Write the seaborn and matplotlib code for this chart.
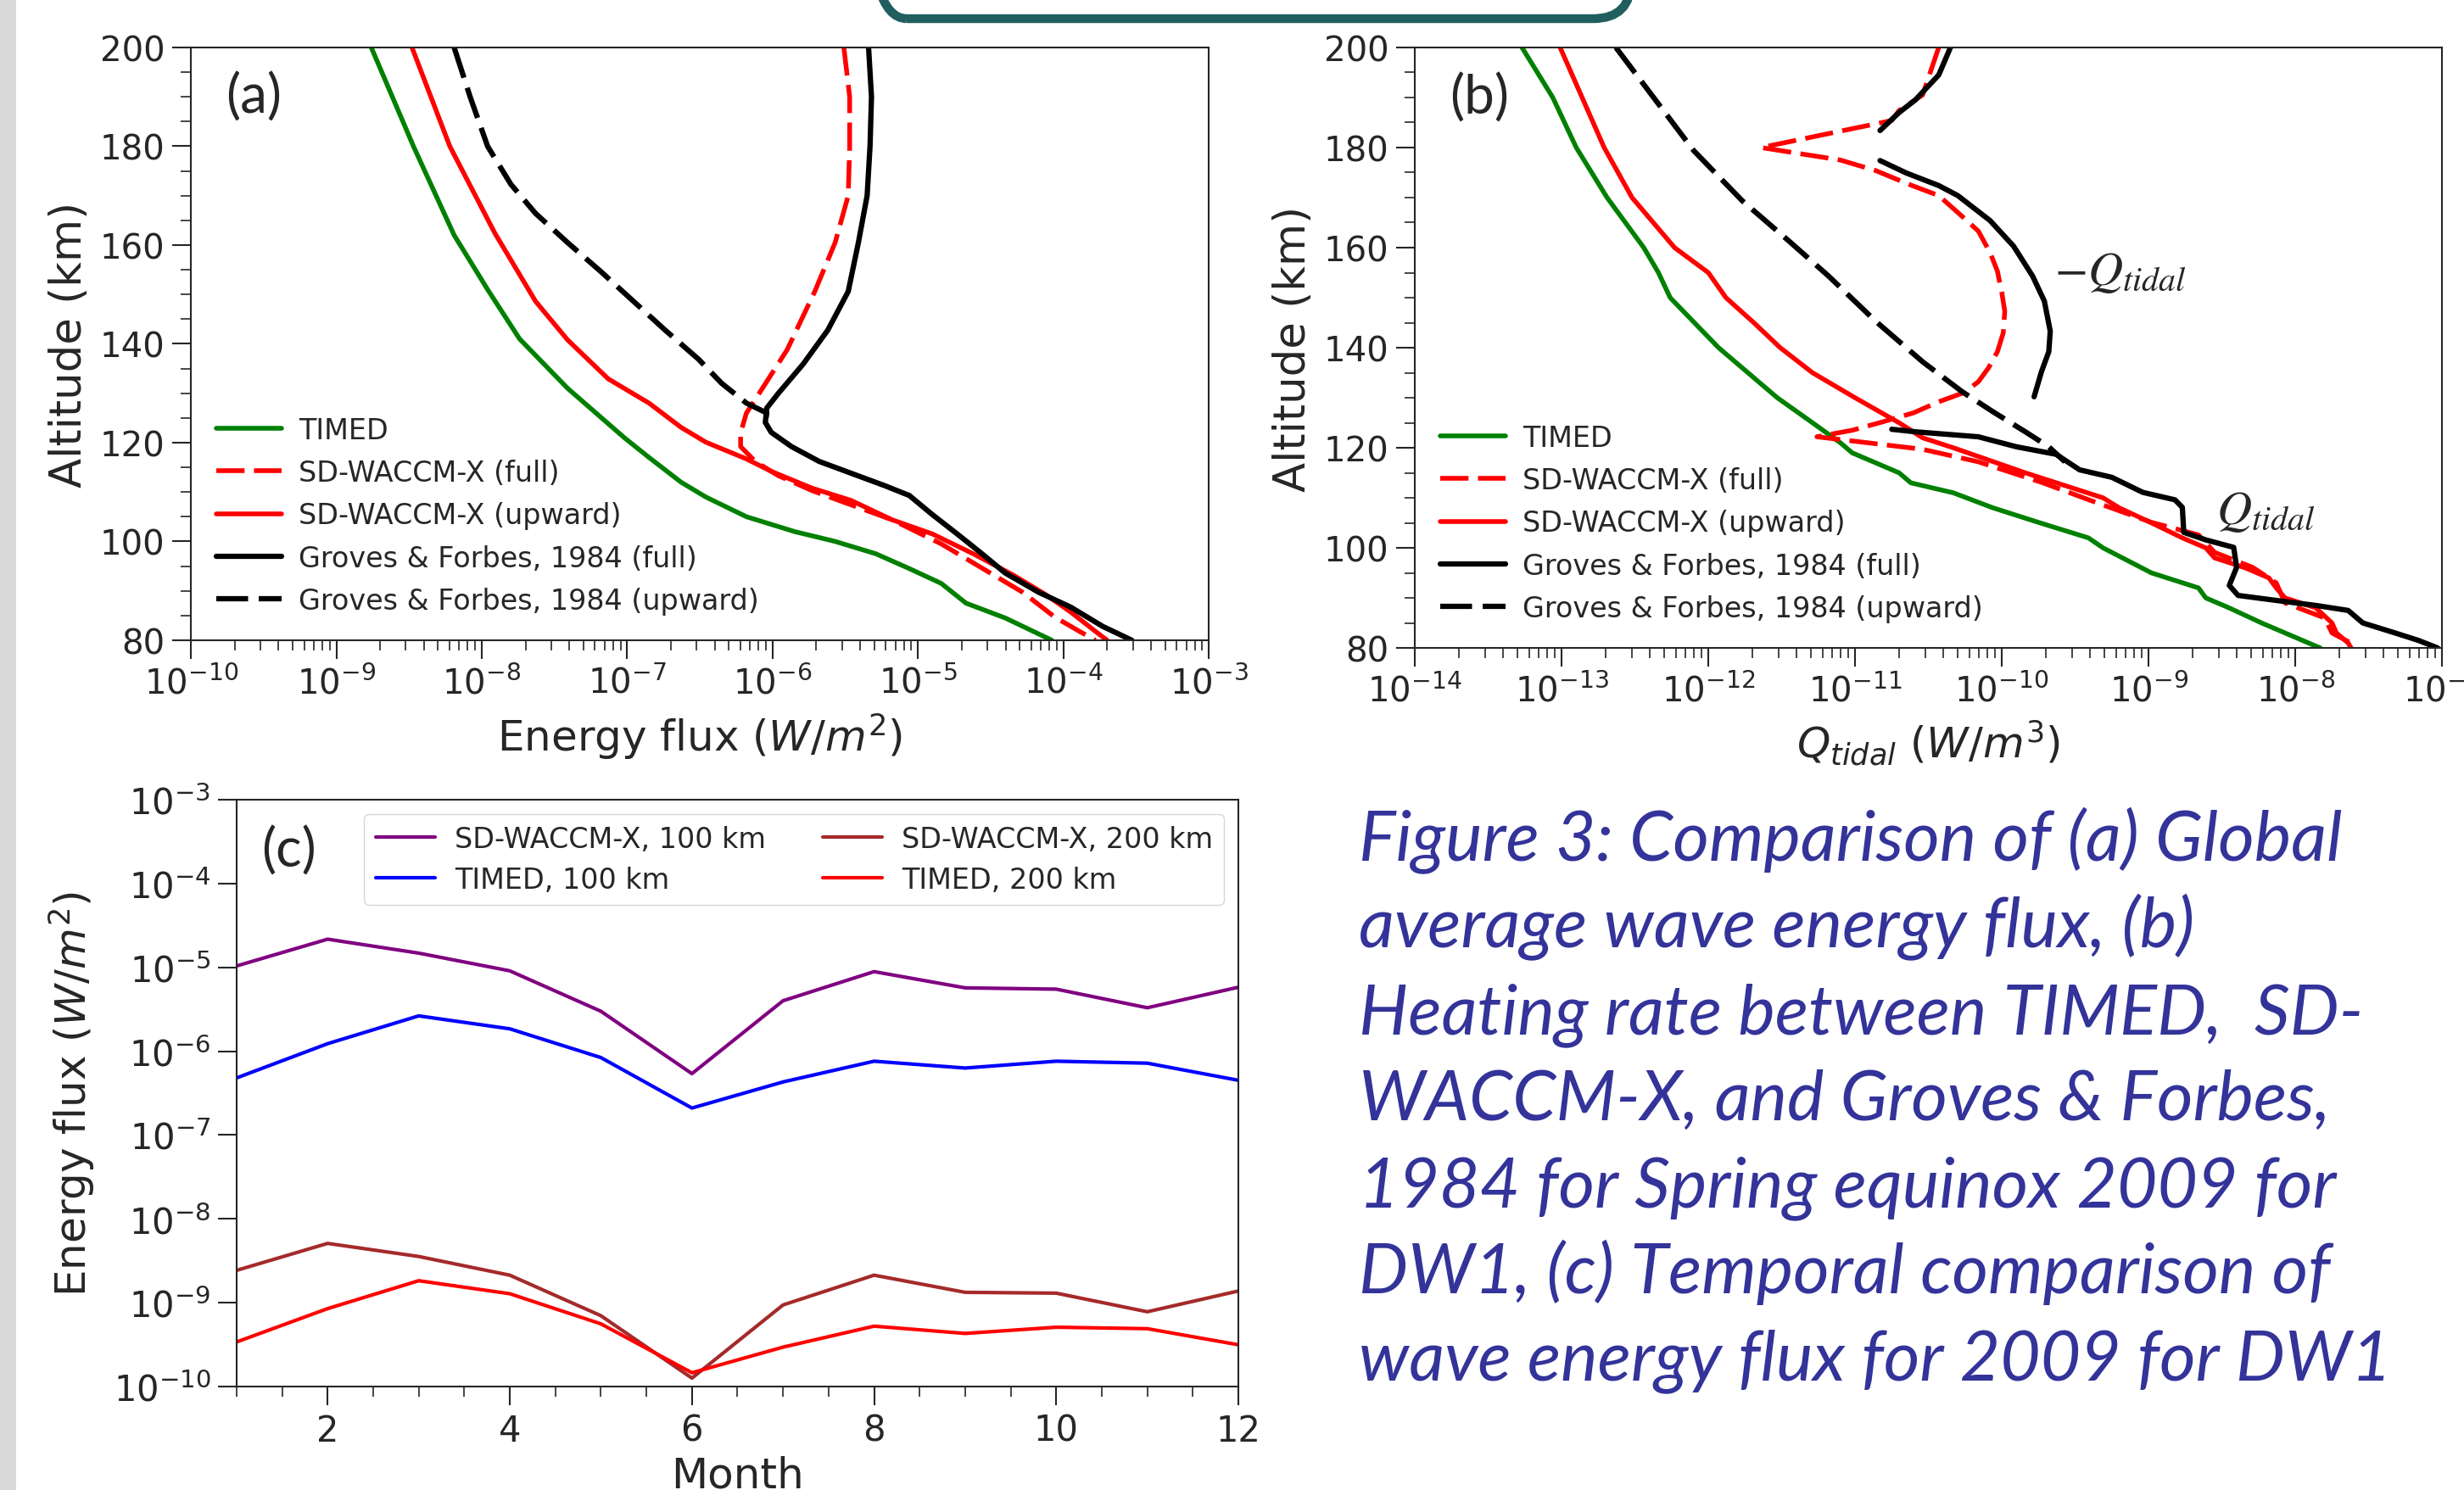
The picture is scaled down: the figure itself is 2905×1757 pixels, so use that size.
import numpy as np
import pandas as pd
import seaborn as sns
import matplotlib.pyplot as plt
from matplotlib.ticker import LogLocator, NullFormatter, NullLocator, MultipleLocator
from matplotlib.patches import FancyBboxPatch, Rectangle

# ---------- (a) energy flux profiles, log10(W/m^2) vs altitude (km) ----------
a_timed_alt = [200, 180, 162, 151, 141, 131, 121, 117, 112, 109, 105, 102, 100, 97.5, 94.5, 91.5, 87.5, 84.5, 80]
a_timed_log = [-8.76, -8.47, -8.19, -7.96, -7.74, -7.41, -7.02, -6.85, -6.63, -6.46, -6.18, -5.85, -5.57, -5.29,
               -5.06, -4.84, -4.67, -4.40, -4.08]

a_sdfull_alt = [200, 190, 180, 170, 160.5, 150.6, 138.8, 131, 126, 122, 119.2, 116.2, 113.3, 110.3, 107.4, 104.4,
                99.5, 94.6, 89.7, 84.7, 81.8, 80]
a_sdfull_log = [-5.51, -5.47, -5.47, -5.48, -5.57, -5.71, -5.90, -6.07, -6.18, -6.22, -6.22, -6.12, -5.96, -5.73,
                -5.46, -5.18, -4.84, -4.56, -4.28, -4.06, -3.89, -3.78]

a_sdup_alt = [200, 180, 162.4, 148.6, 140.8, 132.9, 128, 123.1, 120.1, 116.7, 114.2, 110.8, 108.3, 104.4, 101.5,
              97.5, 93.1, 89.2, 85.7, 81.8, 80]
a_sdup_log = [-8.48, -8.22, -7.91, -7.63, -7.41, -7.13, -6.85, -6.63, -6.46, -6.18, -6.01, -5.73, -5.46, -5.18,
              -4.90, -4.62, -4.34, -4.12, -3.95, -3.78, -3.70]

a_gffull_alt = [200, 190, 180, 170, 160.5, 150.6, 142.8, 135.9, 130, 127, 124.1, 122.1, 119.2, 116.2, 113.8, 111.3,
                109.3, 105.4, 101.5, 97.5, 93.6, 89.7, 86.7, 82.8, 80]
a_gffull_log = [-5.34, -5.32, -5.33, -5.35, -5.41, -5.48, -5.62, -5.79, -5.96, -6.04, -6.05, -6.01, -5.87, -5.68,
                -5.46, -5.23, -5.06, -4.90, -4.73, -4.56, -4.40, -4.17, -3.95, -3.73, -3.53]

a_gfup_alt = [200, 190, 180, 172.3, 166.4, 160.5, 154.6, 148.7, 142.8, 136.9, 132, 128, 126, 124.1]
a_gfup_log = [-8.19, -8.08, -7.96, -7.80, -7.63, -7.41, -7.18, -6.96, -6.74, -6.51, -6.35, -6.18, -6.04, -6.05]

# ---------- (b) tidal heating profiles, log10(W/m^3) vs altitude (km) ----------
b_timed_alt = [200, 190, 180, 170, 160, 155, 150, 140, 130, 125, 121, 119, 117, 115, 113, 111, 108, 105, 102, 100,
               95, 92, 90, 88, 85, 80]
b_timed_log = [-13.27, -13.06, -12.90, -12.69, -12.44, -12.34, -12.26, -11.93, -11.53, -11.29, -11.10, -11.02,
               -10.86, -10.70, -10.62, -10.33, -10.06, -9.74, -9.41, -9.31, -8.98, -8.66, -8.61, -8.45, -8.23, -7.83]

b_sdfull_alt = [200, 190.5, 187.4, 185.4, 180, 177.5, 175.4, 172.5, 170.4, 166.5, 163.3, 159, 155.3, 151, 147.3,
                143, 139.2, 136, 133.2, 131, 129.2, 127, 125.2, 123.5, 122.2, 121.2, 119.7, 117.2, 113.1, 109.1,
                105.1, 102.6, 99.1, 96.1, 93, 89, 86, 83, 80.5]
b_sdfull_log = [-10.43, -10.54, -10.70, -10.75, -11.64, -11.10, -10.86, -10.62, -10.43, -10.28, -10.16, -10.08,
                -10.03, -10.00, -9.98, -9.99, -10.03, -10.09, -10.16, -10.26, -10.43, -10.60, -10.81, -11.02,
                -11.26, -10.97, -10.54, -10.16, -9.73, -9.36, -8.98, -8.66, -8.55, -8.29, -8.13, -8.07, -7.80,
                -7.75, -7.59]

b_sdup_alt = [200, 180, 170, 160, 155, 150, 145, 140, 135, 130, 125, 122, 120, 115, 110, 108, 105, 102, 100, 98,
              96, 94, 92, 90, 88, 85, 83, 81, 80]
b_sdup_log = [-13.01, -12.71, -12.52, -12.23, -12.00, -11.88, -11.69, -11.51, -11.29, -11.00, -10.70, -10.54,
              -10.33, -9.84, -9.31, -9.20, -8.98, -8.77, -8.61, -8.55, -8.34, -8.18, -8.13, -8.07, -7.86, -7.75,
              -7.72, -7.64, -7.62]

# Groves & Forbes (full) is drawn in three pieces (sign changes leave gaps)
b_gffull_top_alt = [200, 194.5, 189.5, 187, 183.4]
b_gffull_top_log = [-10.35, -10.43, -10.59, -10.70, -10.83]
b_gffull_mid_alt = [177.4, 174.9, 172.4, 170.4, 165.4, 160.3, 154.3, 149.3, 143.3, 139.2, 135.2, 130.2]
b_gffull_mid_log = [-10.83, -10.65, -10.43, -10.30, -10.08, -9.92, -9.79, -9.71, -9.67, -9.68, -9.73, -9.78]
b_gffull_low_alt = [123.7, 123.2, 122.2, 120.2, 118.7, 115.6, 114.1, 111.1, 109.6, 108.1, 103.1, 101.6, 100.1,
                    96.1, 92.5, 90.5, 89.5, 88.5, 87.5, 85, 83, 81.5, 80]
b_gffull_low_log = [-10.75, -10.59, -10.16, -9.90, -9.63, -9.47, -9.25, -9.04, -8.82, -8.77, -8.76, -8.61, -8.42,
                    -8.40, -8.45, -8.39, -8.13, -7.86, -7.64, -7.54, -7.32, -7.16, -7.03]

b_gfup_alt = [200, 189.5, 179.4, 169.4, 161.3, 154.3, 145.3, 137.2, 131.2, 127.2, 123.2, 120.2, 117.2]
b_gfup_log = [-12.63, -12.36, -12.10, -11.77, -11.45, -11.18, -10.86, -10.54, -10.27, -10.06, -9.84, -9.68, -9.57]

# ---------- (c) monthly energy flux (W/m^2) ----------
months = [1, 2, 3, 4, 5, 6, 7, 8, 9, 10, 11, 12]
sd_100 = [1.04e-5, 2.17e-5, 1.48e-5, 9.1e-6, 3.0e-6, 5.4e-7, 4.0e-6, 8.9e-6, 5.7e-6, 5.5e-6, 3.3e-6, 5.8e-6]
timed_100 = [4.8e-7, 1.23e-6, 2.64e-6, 1.85e-6, 8.4e-7, 2.1e-7, 4.3e-7, 7.6e-7, 6.3e-7, 7.6e-7, 7.2e-7, 4.5e-7]
sd_200 = [2.43e-9, 5.1e-9, 3.56e-9, 2.13e-9, 7.0e-10, 1.26e-10, 9.4e-10, 2.13e-9, 1.33e-9, 1.30e-9, 7.8e-10, 1.38e-9]
timed_200 = [3.4e-10, 8.5e-10, 1.83e-9, 1.28e-9, 5.6e-10, 1.46e-10, 2.95e-10, 5.25e-10, 4.3e-10, 5.1e-10, 4.9e-10,
             3.15e-10]

caption_lines = [
    "Figure 3: Comparison of (a) Global",
    "average wave energy flux, (b)",
    "Heating rate between TIMED,  SD-",
    "WACCM-X, and Groves & Forbes,",
    "1984 for Spring equinox 2009 for",
    "DW1, (c) Temporal comparison of",
    "wave energy flux for 2009 for DW1",
]

sns.set_theme(style="ticks")
plt.rcParams["font.family"] = ["DejaVu Sans"]
plt.rcParams["axes.linewidth"] = 1.5

DASH = (0, (6, 2))
LW = 4
LWB = 4.5


def profile(ax, alt, logval, **kw):
    df = pd.DataFrame({"alt": alt, "val": np.power(10.0, logval)})
    sns.lineplot(data=df, x="val", y="alt", sort=False, estimator=None, orient="y", ax=ax, **kw)


def style_profile_axes(ax, xmin, xmax, xlabel, panel):
    ax.set_xscale("log")
    ax.set_xlim(xmin, xmax)
    ax.set_ylim(80, 200)
    ax.xaxis.set_major_locator(LogLocator(base=10, numticks=100))
    ax.xaxis.set_minor_locator(LogLocator(base=10, subs=np.arange(2, 10), numticks=100))
    ax.xaxis.set_minor_formatter(NullFormatter())
    ax.yaxis.set_major_locator(MultipleLocator(20))
    ax.yaxis.set_minor_locator(MultipleLocator(5))
    ax.tick_params(which="major", length=16, width=1.5, labelsize=29, pad=6)
    ax.tick_params(which="minor", length=8.5, width=1.2)
    ax.set_xlabel(xlabel, fontsize=36, labelpad=8)
    ax.set_ylabel("Altitude (km)", fontsize=37, labelpad=8)
    ax.text(0.034, 0.917, panel, transform=ax.transAxes, fontsize=46, family="Lato", va="center", ha="left")
    ax.legend(loc="lower left", frameon=False, fontsize=24, handlelength=2.3, handletextpad=0.6, labelspacing=0.52)


fig = plt.figure(figsize=(29.05, 17.58), dpi=100)
fig.patch.set_facecolor("white")

# decorations from the poster
fig.add_artist(Rectangle((0, 0), 0.19, 17.58, transform=fig.dpi_scale_trans, facecolor="#d9d9d9",
                         edgecolor="none"))
fig.add_artist(FancyBboxPatch((10.24, 17.35), 8.99, 2.0, boxstyle="round,pad=0,rounding_size=0.45",
                              transform=fig.dpi_scale_trans, facecolor="none", edgecolor="#215f5f", linewidth=7.5))

# ---- panel (a)
ax_a = fig.add_axes([0.0775, 0.5700, 0.4131, 0.3976])
ax_a.set_xscale("log")
profile(ax_a, a_timed_alt, a_timed_log, color="green", linewidth=LW, label="TIMED")
profile(ax_a, a_sdfull_alt, a_sdfull_log, color="red", linewidth=LW, linestyle=DASH, label="SD-WACCM-X (full)")
profile(ax_a, a_sdup_alt, a_sdup_log, color="red", linewidth=LW, label="SD-WACCM-X (upward)")
profile(ax_a, a_gffull_alt, a_gffull_log, color="black", linewidth=LWB, label="Groves & Forbes, 1984 (full)")
profile(ax_a, a_gfup_alt, a_gfup_log, color="black", linewidth=LWB, linestyle=DASH,
        label="Groves & Forbes, 1984 (upward)")
style_profile_axes(ax_a, 1e-10, 1e-3, r"Energy flux ($W/m^2$)", "(a)")

# ---- panel (b)
ax_b = fig.add_axes([0.5742, 0.5648, 0.4169, 0.4028])
ax_b.set_xscale("log")
profile(ax_b, b_timed_alt, b_timed_log, color="green", linewidth=LW, label="TIMED")
profile(ax_b, b_sdfull_alt, b_sdfull_log, color="red", linewidth=LW, linestyle=DASH, label="SD-WACCM-X (full)")
profile(ax_b, b_sdup_alt, b_sdup_log, color="red", linewidth=LW, label="SD-WACCM-X (upward)")
profile(ax_b, b_gffull_top_alt, b_gffull_top_log, color="black", linewidth=LWB,
        label="Groves & Forbes, 1984 (full)")
profile(ax_b, b_gffull_mid_alt, b_gffull_mid_log, color="black", linewidth=LWB)
profile(ax_b, b_gffull_low_alt, b_gffull_low_log, color="black", linewidth=LWB)
profile(ax_b, b_gfup_alt, b_gfup_log, color="black", linewidth=LWB, linestyle=DASH,
        label="Groves & Forbes, 1984 (upward)")
style_profile_axes(ax_b, 1e-14, 1e-7, r"$Q_{tidal}$ ($W/m^3$)", "(b)")
ax_b.text(10 ** -9.64, 155.3, r"$-Q_{tidal}$", fontsize=41, math_fontfamily="stix", va="center", ha="left")
ax_b.text(10 ** -8.54, 107.5, r"$Q_{tidal}$", fontsize=41, math_fontfamily="stix", va="center", ha="left")

# ---- panel (c)
ax_c = fig.add_axes([0.0960, 0.0694, 0.4066, 0.3936])
ax_c.set_yscale("log")
df_c = pd.DataFrame({"Month": months, "sd100": sd_100, "t100": timed_100, "sd200": sd_200, "t200": timed_200})
sns.lineplot(data=df_c, x="Month", y="sd100", color="purple", linewidth=3, label="SD-WACCM-X, 100 km", ax=ax_c)
sns.lineplot(data=df_c, x="Month", y="t100", color="blue", linewidth=3, label="TIMED, 100 km", ax=ax_c)
sns.lineplot(data=df_c, x="Month", y="sd200", color="brown", linewidth=3, label="SD-WACCM-X, 200 km", ax=ax_c)
sns.lineplot(data=df_c, x="Month", y="t200", color="red", linewidth=3, label="TIMED, 200 km", ax=ax_c)
ax_c.set_xlim(1, 12)
ax_c.set_ylim(1e-10, 1e-3)
ax_c.yaxis.set_major_locator(LogLocator(base=10, numticks=100))
ax_c.yaxis.set_minor_locator(NullLocator())
ax_c.xaxis.set_major_locator(MultipleLocator(2))
ax_c.xaxis.set_minor_locator(MultipleLocator(0.5))
ax_c.tick_params(which="major", length=16, width=1.5, labelsize=30, pad=6)
ax_c.tick_params(which="minor", length=8.5, width=1.2)
ax_c.set_xlabel("Month", fontsize=36, labelpad=6)
ax_c.set_ylabel(r"Energy flux ($W/m^2$)", fontsize=36, labelpad=14)
ax_c.text(0.025, 0.913, "(c)", transform=ax_c.transAxes, fontsize=46, family="Lato", va="center", ha="left")
ax_c.legend(loc="upper right", ncol=2, fontsize=24, handlelength=2.1, handletextpad=0.7, columnspacing=2.0,
            labelspacing=0.45)

# ---- caption
for i, line in enumerate(caption_lines):
    fig.text(1602 / 2905, 1 - (1015 + i * 102) / 1758, line, fontsize=59, family="Lato", style="italic",
             color="#33339a", va="baseline", ha="left")

fig.savefig("out.png", dpi=100)
